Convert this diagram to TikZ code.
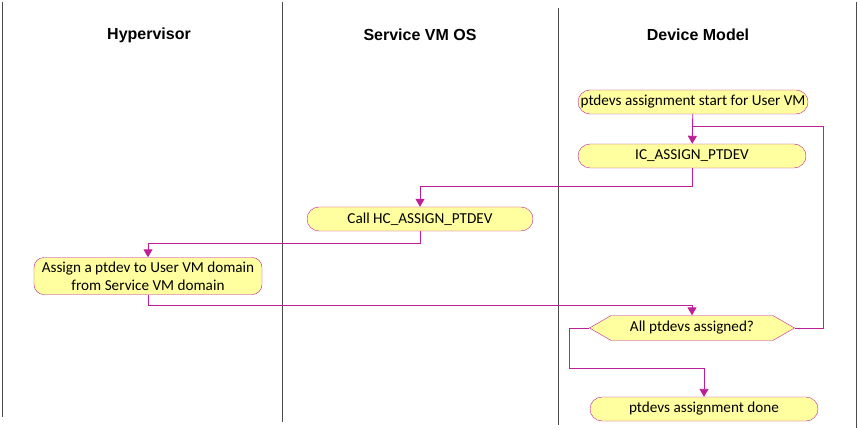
\documentclass[tikz,border=0pt]{standalone}
\usepackage{fontspec}
\setmainfont{Carlito}
\newfontfamily\headfont{Liberation Sans}
\usetikzlibrary{arrows.meta,shapes.symbols}
\definecolor{actfill}{RGB}{255,255,160}
\definecolor{actline}{RGB}{190,30,150}

\begin{document}
\begin{tikzpicture}[>={Triangle[length=8pt,width=9pt]},x=1pt,y=-1pt,
	act/.style={draw=actline,fill=actfill,rounded corners=12pt,minimum height=24pt,inner sep=0pt,font=\fontsize{15.2}{18}\selectfont},
	check/.style={shape=signal,signal to=west and east,signal pointer angle=60,draw=actline,fill=actfill,minimum height=25pt,inner sep=0pt,font=\fontsize{15.2}{18}\selectfont},
	flow/.style={draw=actline,line width=0.9pt},
	lane/.style={draw=black!70,line width=1pt},
	head/.style={font=\headfont\bfseries\fontsize{16}{19}\selectfont}]
	\useasboundingbox (0,0) rectangle (858,430);
	% swimlanes
	\draw[lane] (2,2) -- (2,417);
	\draw[lane] (282,2) -- (282,422);
	\draw[lane] (558,8) -- (558,425);
	\draw[lane] (856,2) -- (856,428);
	\node[head] (hyp) at (149,35) {Hypervisor};
	\node[head] (sos) at (420,35) {Service VM OS};
	\node[head] (dm) at (698,35) {Device Model};
	% activities
	\node[act,minimum width=230pt] (start) at (693,102) {ptdevs assignment start for User VM};
	\node[act,minimum width=228pt] (icassign) at (692,156) {IC\_ASSIGN\_PTDEV};
	\node[act,minimum width=226pt] (hccall) at (420,219) {Call HC\_ASSIGN\_PTDEV};
	\node[act,minimum width=228pt,minimum height=37pt,rounded corners=10pt,align=center] (assign) at (148,276) {Assign a ptdev to User VM domain\\from Service VM domain};
	\node[check,minimum width=205pt] (allset) at (692,328) {All ptdevs assigned?};
	\node[act,minimum width=228pt] (done) at (704,409) {ptdevs assignment done};
	\coordinate (loop) at (692,126);
	% flow
	\draw[flow,->] (start) -- (icassign);
	\draw[flow] (allset.east) -- ++(29,0) |- (loop);
	\draw[flow,->] (icassign.south) -- ++(0,18) -| (hccall.north);
	\draw[flow,->] (hccall.south) -- ++(0,12) -| (assign.north);
	\draw[flow,->] (assign.south) -- ++(0,11) -| (allset.north);
	\draw[flow,->] (allset.west) -- ++(-20,0) -- ++(0,40) -| (done.north);
\end{tikzpicture}
\end{document}
